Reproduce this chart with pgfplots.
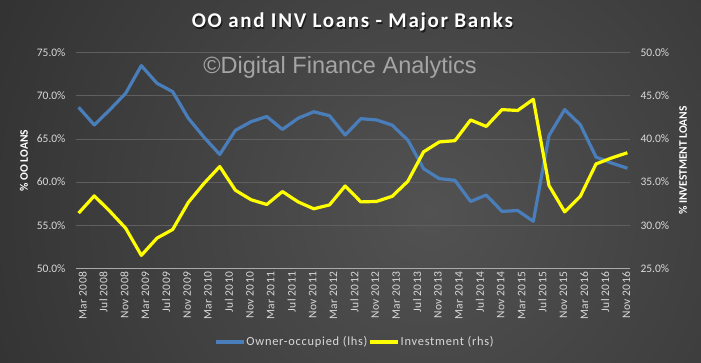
\documentclass[border=0pt]{standalone}
\usepackage{fontspec}
\setmainfont{Carlito}
\newfontfamily\titlefont[LetterSpace=8]{Carlito}
\newfontfamily\lgfont[LetterSpace=6]{Carlito}
\newfontfamily\xtfont[LetterSpace=3]{Carlito}
\newfontfamily\wmfont{Liberation Sans}
\usepackage{pgfplots}
\pgfplotsset{compat=1.18}
\definecolor{bginner}{RGB}{82,82,82}
\definecolor{bgouter}{RGB}{20,20,20}
\definecolor{tickgray}{RGB}{217,217,217}
\definecolor{gridgray}{RGB}{95,95,95}
\definecolor{axisgray}{RGB}{170,170,170}
\definecolor{ooblue}{RGB}{74,126,187}
\definecolor{invyellow}{RGB}{255,255,0}
\definecolor{wmgray}{RGB}{165,165,165}

\pgfplotstableread{
m  v
0 68.67
3 66.62
6 68.4
9 70.29
12 73.5
15 71.45
18 70.48
21 67.39
24 65.19
27 63.2
30 66.0
33 67.0
36 67.6
39 66.1
42 67.4
45 68.15
48 67.7
51 65.45
54 67.35
57 67.2
60 66.6
63 64.85
66 61.55
69 60.4
72 60.2
75 57.75
78 58.5
81 56.6
84 56.7
87 55.45
90 65.4
93 68.4
96 66.65
99 62.9
102 62.2
105 61.6
}\oodata

\pgfplotstableread{
m  v
0 31.4
3 33.4
6 31.6
9 29.65
12 26.5
15 28.5
18 29.5
21 32.65
24 34.85
27 36.8
30 34.05
33 32.95
36 32.4
39 33.9
42 32.7
45 31.9
48 32.35
51 34.55
54 32.7
57 32.75
60 33.35
63 35.1
66 38.5
69 39.65
72 39.8
75 42.2
78 41.45
81 43.4
84 43.3
87 44.6
90 34.6
93 31.55
96 33.35
99 37.1
102 37.8
105 38.4
}\invdata

\begin{document}
\begin{tikzpicture}[x=1pt,y=1pt]
\useasboundingbox (0,0) rectangle (701,362);
\begin{scope}
\clip (0,0) rectangle (701,362);
\shade[inner color=bginner, outer color=bgouter] (430,150) circle (940);
\end{scope}

% title with shadow
\node[text=black, opacity=0.6, font=\titlefont\bfseries\fontsize{21}{24}\selectfont] at (353.5,338.5) {OO and INV Loans - Major Banks};
\node[text=white, font=\titlefont\bfseries\fontsize{21}{24}\selectfont] at (352.3,339.8) {OO and INV Loans - Major Banks};
% watermark
\node[text=wmgray, font=\wmfont\fontsize{23.5}{26}\selectfont] at (340,294.5) {\textcopyright Digital Finance Analytics};

\begin{axis}[
  at={(76pt,93.7pt)}, anchor=south west,
  scale only axis, width=554pt, height=215.6pt,
  xmin=-0.5, xmax=105.5, ymin=50, ymax=75,
  axis x line*=bottom, axis y line*=left,
  x axis line style={color=axisgray, line width=0.8pt, -},
  y axis line style={draw=none},
  major tick length=0pt,
  xtick={0,4,...,104},
  xticklabels={Mar 2008,Jul 2008,Nov 2008,Mar 2009,Jul 2009,Nov 2009,Mar 2010,Jul 2010,Nov 2010,Mar 2011,Jul 2011,Nov 2011,Mar 2012,Jul 2012,Nov 2012,Mar 2013,Jul 2013,Nov 2013,Mar 2014,Jul 2014,Nov 2014,Mar 2015,Jul 2015,Nov 2015,Mar 2016,Jul 2016,Nov 2016},
  x tick label style={rotate=90, anchor=east, yshift=-4pt, text=tickgray, font=\xtfont\fontsize{11.5}{13}\selectfont},
  ytick={50,55,...,75},
  yticklabel={\pgfmathprintnumber[fixed,fixed zerofill,precision=1,assume math mode=true]{\tick}\%},
  y tick label style={xshift=-7pt, text=tickgray, font=\fontsize{11.5}{13}\selectfont},
  ymajorgrids, grid style={gridgray, line width=0.8pt},
  ylabel={\% OO LOANS},
  y label style={at={(axis description cs:-0.094,0.5)}, anchor=center, text=white, font=\bfseries\fontsize{11.5}{13}\selectfont},
  legend columns=2,
  legend style={at={(axis description cs:0.5027,-0.342)}, anchor=center, draw=none, fill=none,
    text=tickgray, font=\lgfont\fontsize{12.4}{14}\selectfont,
    /tikz/every even column/.append style={column sep=0pt},
    /tikz/column sep=0pt,
    nodes={inner xsep=1pt}},
  legend image code/.code={\draw[#1, line cap=butt] (0pt,0pt) -- (28pt,0pt);},
]
\addplot[ooblue, line width=3.2pt, line join=round] table[x=m,y=v] {\oodata};
\addlegendentry{Owner-occupied (lhs)\hspace{16pt}}
\addlegendimage{invyellow, line width=3.2pt}
\addlegendentry{Investment (rhs)}
\end{axis}

\begin{axis}[
  at={(76pt,93.7pt)}, anchor=south west,
  scale only axis, width=554pt, height=215.6pt,
  xmin=-0.5, xmax=105.5, ymin=25, ymax=50,
  hide x axis,
  axis y line*=right,
  y axis line style={draw=none},
  major tick length=0pt,
  ytick={25,30,...,50},
  yticklabel={\pgfmathprintnumber[fixed,fixed zerofill,precision=1,assume math mode=true]{\tick}\%},
  y tick label style={xshift=7pt, text=tickgray, font=\fontsize{11.5}{13}\selectfont},
  ylabel={\% INVESTMENT LOANS},
  y label style={at={(axis description cs:1.0957,0.5)}, anchor=center, rotate=0, text=white, font=\bfseries\fontsize{11.5}{13}\selectfont},
]
\addplot[invyellow, line width=3.2pt, line join=round] table[x=m,y=v] {\invdata};
\end{axis}
\end{tikzpicture}
\end{document}
